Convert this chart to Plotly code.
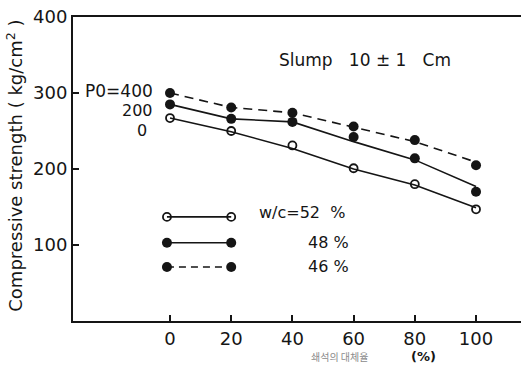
import plotly.graph_objects as go

# ---- data ----
x_pct = [0, 20, 40, 60, 80, 100]
# measured points
pts_52 = [267, 250, 231, 201, 180, 147]
pts_48 = [285, 266, 262, 242, 214, 170]
pts_46 = [300, 281, 274, 256, 238, 205]
# drawn (fitted) lines
line_52 = [267, 249, 227, 200, 179, 149]
line_48 = [285, 266, 262, 236, 212, 177]
line_46 = [300, 281, 274, 255, 236, 209]

x_ticks = [0, 20, 40, 60, 80, 100]
y_ticks = [100, 200, 300, 400]

# legend sample rows
leg_x = [-1, 20]
leg_y52 = [137, 137]
leg_y48 = [103, 103]
leg_y46 = [71, 71]

INK = "#151515"
FONT = "DejaVu Sans"

fig = go.Figure()

def add_series(xl, yl, xp, yp, dash, open_marker):
    fig.add_trace(go.Scatter(x=xl, y=yl, mode="lines",
                             line=dict(color=INK, width=1.6, dash=dash),
                             hoverinfo="skip", showlegend=False))
    if open_marker:
        mk = dict(symbol="circle-open", size=8, color=INK, line=dict(width=1.8, color=INK))
    else:
        mk = dict(symbol="circle", size=10, color=INK)
    fig.add_trace(go.Scatter(x=xp, y=yp, mode="markers", marker=mk,
                             showlegend=False))

add_series(x_pct, line_52, x_pct, pts_52, "solid", True)
add_series(x_pct, line_48, x_pct, pts_48, "solid", False)
add_series(x_pct, line_46, x_pct, pts_46, "9px,6px", False)

add_series(leg_x, leg_y52, leg_x, leg_y52, "solid", True)
add_series(leg_x, leg_y48, leg_x, leg_y48, "solid", False)
add_series(leg_x, leg_y46, leg_x, leg_y46, "7px,5px", False)

ann = []
def txt(x, y, s, size, xanchor="left", **kw):
    ann.append(dict(x=x, y=y, text=s, showarrow=False, xanchor=xanchor,
                    yanchor="middle", font=dict(family=FONT, size=size, color=INK), **kw))

txt(28.5, 143, "w/c=52  %", 16)
txt(44.5, 103, "48 %", 16)
txt(44.5, 72, "46 %", 16)
txt(-4.8, 302, "P0=400", 17, xanchor="right", height=16)
txt(-4.8, 278, "200", 16, xanchor="right", height=16)
txt(-6.8, 251, "0", 16, xanchor="right", height=16)
txt(35, 343, "Slump   10 ± 1   Cm", 17)

ann.append(dict(xref="paper", yref="paper", x=-0.13, y=0.51, text="Compressive strength ( kg/cm<sup>2</sup> )",
                textangle=-90, showarrow=False, xanchor="center", yanchor="middle",
                font=dict(family=FONT, size=18, color=INK)))
ann.append(dict(x=55.5, xref="x", yref="paper", y=-0.118, text="쇄석의 대체율", showarrow=False,
                xanchor="center", yanchor="middle",
                font=dict(family="Noto Sans CJK KR", size=10, color="#8a8a8a")))
ann.append(dict(x=83, xref="x", yref="paper", y=-0.118, text="<b>(%)</b>", showarrow=False,
                xanchor="center", yanchor="middle",
                font=dict(family=FONT, size=13, color=INK)))

fig.update_layout(
    width=521, height=375,
    margin=dict(l=73, r=0, t=17, b=54),
    paper_bgcolor="white", plot_bgcolor="white",
    showlegend=False,
    annotations=ann,
    xaxis=dict(range=[-31.7, 114.7], tickvals=x_ticks, ticks="inside", ticklen=6,
               tickcolor=INK, tickwidth=1.5, showgrid=False, zeroline=False,
               showline=True, linecolor=INK, linewidth=2, mirror=True,
               tickfont=dict(family=FONT, size=18, color=INK)),
    yaxis=dict(range=[0, 400], tickvals=y_ticks, ticks="inside", ticklen=6,
               tickcolor=INK, tickwidth=1.5, showgrid=False, zeroline=False,
               showline=True, linecolor=INK, linewidth=2,
               tickfont=dict(family=FONT, size=18, color=INK)),
)

fig.write_html("out.html")
